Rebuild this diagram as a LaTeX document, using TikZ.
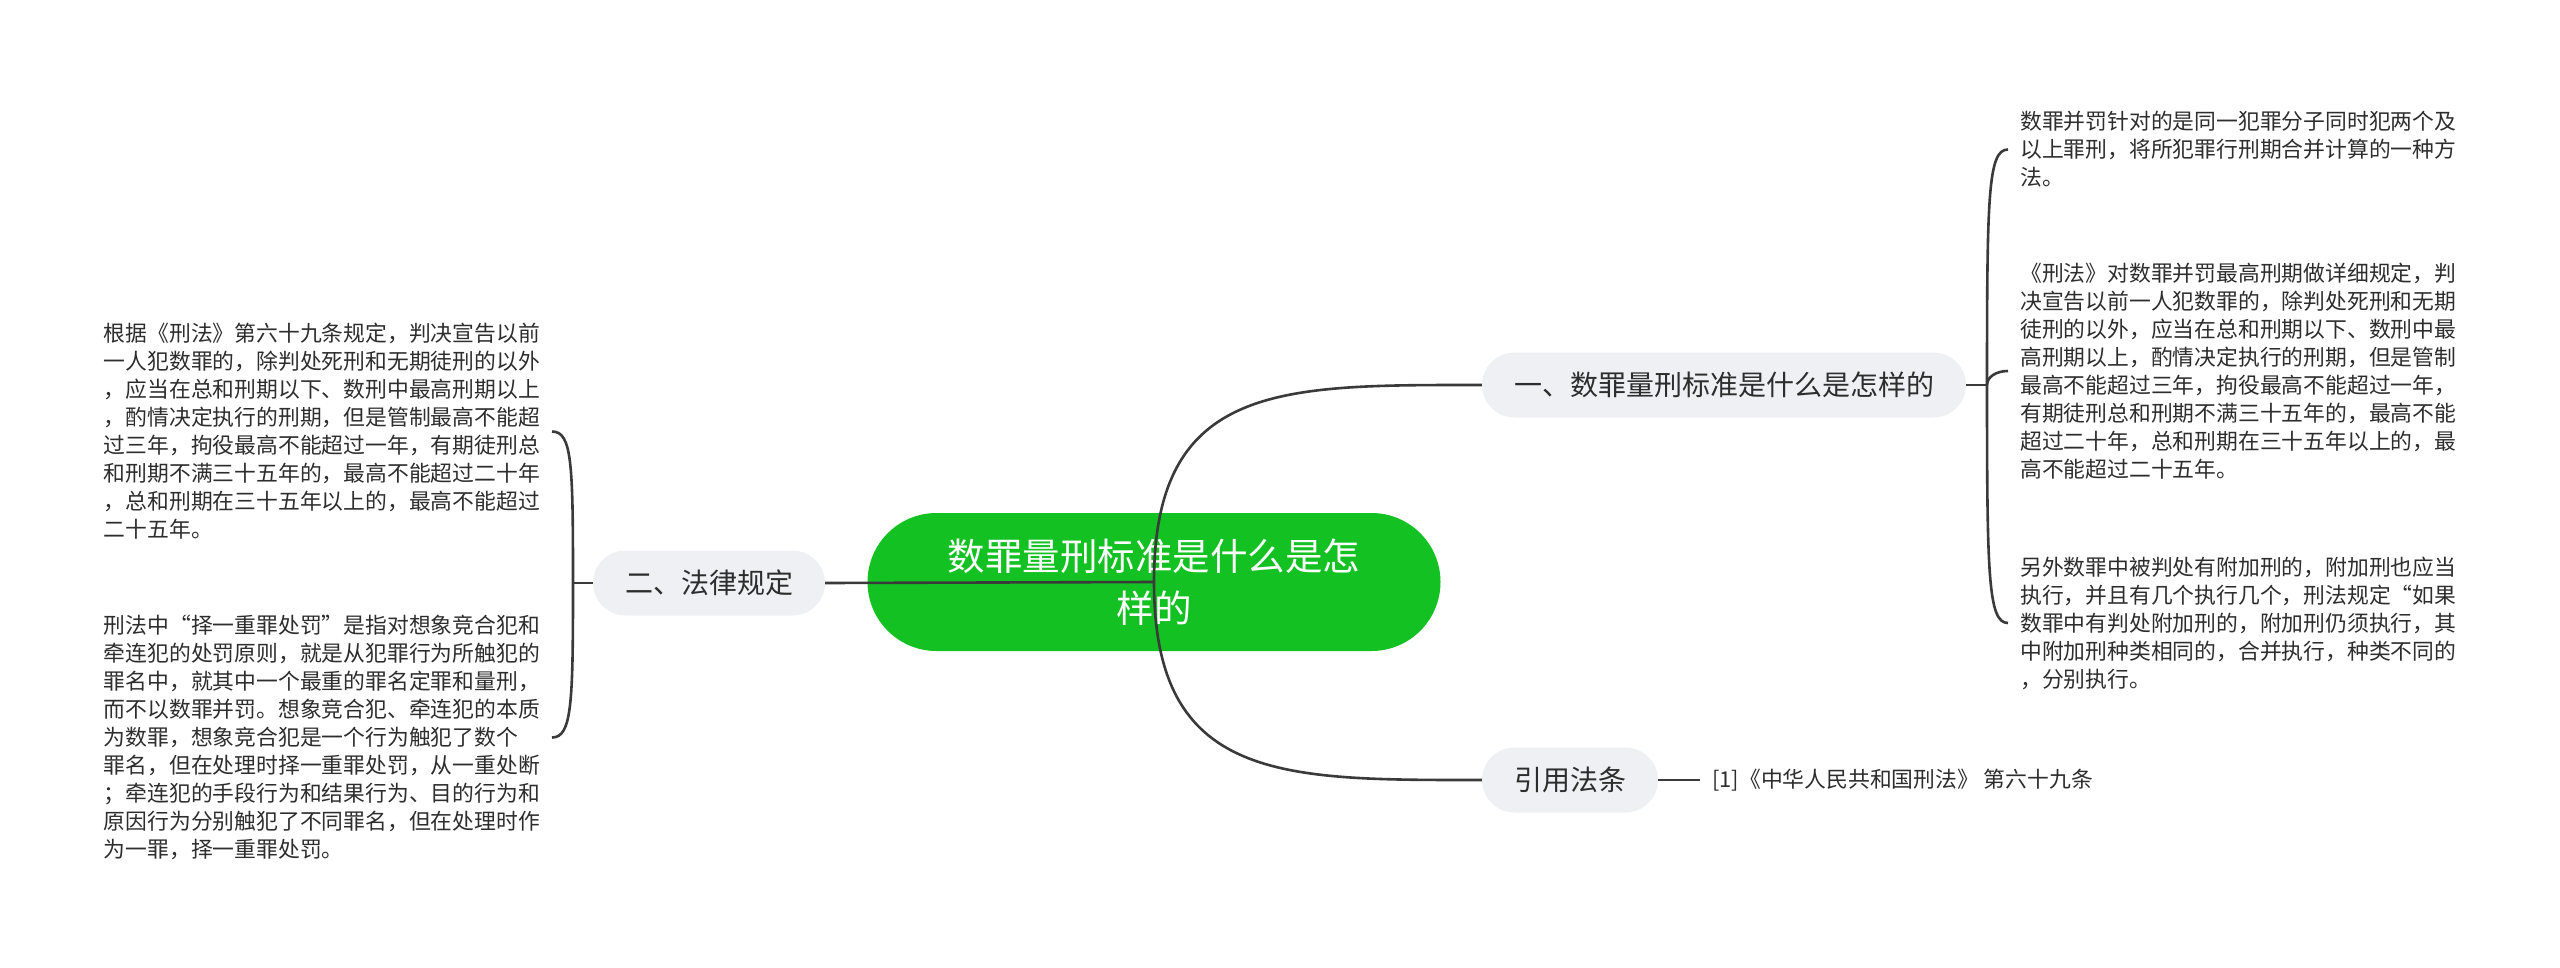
\documentclass[tikz,border=0pt]{standalone}
\usepackage{fontspec}
\setmainfont{Noto Sans CJK SC}
\usetikzlibrary{positioning}
\definecolor{mapgreen}{RGB}{19,193,35}
\definecolor{pillgray}{RGB}{238,240,243}
\definecolor{inkgray}{RGB}{45,45,45}
\definecolor{linegray}{RGB}{58,58,58}

\begin{document}
\begin{tikzpicture}[x=1pt,y=-1pt,
  root/.style={fill=mapgreen,text=white,rounded corners=69pt,minimum height=138pt,minimum width=573pt,align=center,font=\fontsize{37.5}{52}\selectfont},
  topic/.style={fill=pillgray,text=inkgray,rounded corners=32.5pt,minimum height=65pt,inner xsep=32pt,font=\fontsize{28}{34}\selectfont},
  leaf/.style={text=inkgray,align=left,inner sep=12pt,font=\fontsize{21.8}{28}\selectfont},
  link/.style={draw=linegray,line width=2.6pt}]
\useasboundingbox (0,0) rectangle (2560,967);
% centre and main topics
\node[root] (main) at (1154,582) {数罪量刑标准是什么是怎\\样的};
\node[topic] (std) at (1724,385) {一、数罪量刑标准是什么是怎样的};
\node[topic] (law) at (709,583) {二、法律规定};
\node[topic] (cite) at (1570,780) {引用法条};
\node[leaf,right=42pt of cite] (ref) {[1]《中华人民共和国刑法》 第六十九条};
% junctions of the braces
\coordinate (jL) at (573,583);
\coordinate (jR) at (1987,385);
% leaves, right
\node[leaf,anchor=west] (r1) at (2008,149.5) {数罪并罚针对的是同一犯罪分子同时犯两个及\\以上罪刑，将所犯罪行刑期合并计算的一种方\\法。};
\node[leaf,anchor=west] (r2) at (2008,371) {《刑法》对数罪并罚最高刑期做详细规定，判\\决宣告以前一人犯数罪的，除判处死刑和无期\\徒刑的以外，应当在总和刑期以下、数刑中最\\高刑期以上，酌情决定执行的刑期，但是管制\\最高不能超过三年，拘役最高不能超过一年，\\有期徒刑总和刑期不满三十五年的，最高不能\\超过二十年，总和刑期在三十五年以上的，最\\高不能超过二十五年。};
\node[leaf,anchor=west] (r3) at (2008,623) {另外数罪中被判处有附加刑的，附加刑也应当\\执行，并且有几个执行几个，刑法规定“如果\\数罪中有判处附加刑的，附加刑仍须执行，其\\中附加刑种类相同的，合并执行，种类不同的\\，分别执行。};
% leaves, left
\node[leaf,anchor=east] (l1) at (552,431.5) {根据《刑法》第六十九条规定，判决宣告以前\\一人犯数罪的，除判处死刑和无期徒刑的以外\\，应当在总和刑期以下、数刑中最高刑期以上\\，酌情决定执行的刑期，但是管制最高不能超\\过三年，拘役最高不能超过一年，有期徒刑总\\和刑期不满三十五年的，最高不能超过二十年\\，总和刑期在三十五年以上的，最高不能超过\\二十五年。};
\node[leaf,anchor=east] (l2) at (552,737.5) {刑法中“择一重罪处罚”是指对想象竞合犯和\\牵连犯的处罚原则，就是从犯罪行为所触犯的\\罪名中，就其中一个最重的罪名定罪和量刑，\\而不以数罪并罚。想象竞合犯、牵连犯的本质\\为数罪，想象竞合犯是一个行为触犯了数个\\罪名，但在处理时择一重罪处罚，从一重处断\\；牵连犯的手段行为和结果行为、目的行为和\\原因行为分别触犯了不同罪名，但在处理时作\\为一罪，择一重罪处罚。};
% connectors
\draw[link] (main.center) .. controls +(0,-200) and +(-200,0) .. (std.west);
\draw[link] (main.center) .. controls +(0,200) and +(-200,0) .. (cite.west);
\draw[link] (main.center) -- (law.east);
\draw[link] (cite) -- (ref);
\draw[link] (std.east) -- (jR);
\draw[link] (jR) .. controls +(0,-190) and +(-20,0) .. (r1.west);
\draw[link] (jR) .. controls +(0,-8) and +(-12,0) .. (r2.west);
\draw[link] (jR) .. controls +(0,190) and +(-20,0) .. (r3.west);
\draw[link] (law.west) -- (jL);
\draw[link] (jL) .. controls +(0,-120) and +(20,0) .. (l1.east);
\draw[link] (jL) .. controls +(0,120) and +(20,0) .. (l2.east);
\end{tikzpicture}
\end{document}
